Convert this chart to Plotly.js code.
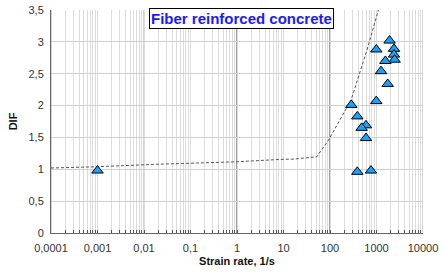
<!DOCTYPE html>
<html><head><meta charset="utf-8">
<script src="https://cdn.plot.ly/plotly-3.0.1.min.js"></script>
<style>html,body{margin:0;padding:0;background:#fff}#c{width:444px;height:275px}</style>
</head><body><div id="c"></div>
<script>
// Data
const pointStrainRate = [0.001, 1910, 990, 2380, 2380, 2450, 1550, 1250, 1740, 990, 287, 387, 594, 479, 594, 387, 760];
const pointDIF        = [0.98, 3.02, 2.88, 2.89, 2.80, 2.72, 2.70, 2.54, 2.34, 2.07, 2.01, 1.83, 1.69, 1.65, 1.49, 0.96, 0.98];
const curveStrainRate = [0.0001, 0.001, 0.016, 1, 8.5, 16.5, 52, 93, 283, 622, 1100];
const curveDIF        = [1.02, 1.04, 1.077, 1.118, 1.155, 1.16, 1.196, 1.458, 2.085, 2.87, 3.5];
const decades = [0.0001, 0.001, 0.01, 0.1, 1, 10, 100, 1000, 10000];
const decadeLabels = ['0,0001', '0,001', '0,01', '0,1', '1', '10', '100', '1000', '10000'];
const darkDecades = [1, 10, 100];

// build tick values (all 1..9 multiples) with labels only at decades
const tickVals = [], tickText = [];
decades.forEach((d, i) => {
  for (let m = 1; m <= 9; m++) {
    if (i === decades.length - 1 && m > 1) break;
    tickVals.push(d * m);
    tickText.push(m === 1 ? decadeLabels[i] : '');
  }
});

const shapes = [];
decades.forEach(d => shapes.push({type:'line', xref:'x', yref:'paper', x0:d, x1:d, y0:0, y1:1,
  line:{color: darkDecades.includes(d) ? '#404040' : '#a8a8a8', width:1}, layer:'below'}));

const font = 'Liberation Sans, Arial, sans-serif';
const data = [
  {x: curveStrainRate, y: curveDIF, mode:'lines', type:'scatter',
   line:{color:'#555', width:1, dash:'3px,2px'}, hoverinfo:'skip'},
  {x: pointStrainRate, y: pointDIF, mode:'markers', type:'scatter',
   marker:{symbol:'triangle-up', size:10, color:'#1aa0ff', line:{color:'#000', width:1}}}
];
const layout = {
  width:444, height:275, showlegend:false,
  margin:{l:51, r:21, t:10, b:42},
  paper_bgcolor:'#fff', plot_bgcolor:'#fff',
  separators:',.',
  font:{family:font, size:11, color:'#333'},
  xaxis:{type:'log', range:[-4, 4], tickvals:tickVals, ticktext:tickText,
    showgrid:true, gridcolor:'#dcdcdc', gridwidth:1,
    ticks:'inside', ticklen:3, tickcolor:'#555', ticklabelstandoff:5,
    showline:true, linecolor:'#666', linewidth:1, zeroline:false,
    tickfont:{family:font, size:11, color:'#333'},
    title:{text:'<b>Strain rate, 1/s</b>', font:{family:font, size:11, color:'#111'}, standoff:4}},
  yaxis:{range:[0, 3.5], dtick:0.5, showgrid:true, gridcolor:'#cfcfcf',
    showline:true, linecolor:'#666', zeroline:false, ticks:'', ticklabelstandoff:4,
    tickfont:{family:font, size:11, color:'#333'},
    title:{text:'<b>DIF</b>', font:{family:font, size:11, color:'#111'}, standoff:8}},
  shapes: shapes,
  annotations:[{xref:'paper', yref:'paper', x:0.511, y:0.96, xanchor:'center', yanchor:'middle',
    text:'<b>Fiber reinforced concrete</b>', showarrow:false,
    font:{family:font, size:15, color:'#1a1aff'},
    bgcolor:'#fff', bordercolor:'#000', borderwidth:1, borderpad:1}]
};
Plotly.newPlot('c', data, layout, {staticPlot:true, displayModeBar:false});
</script></body></html>
